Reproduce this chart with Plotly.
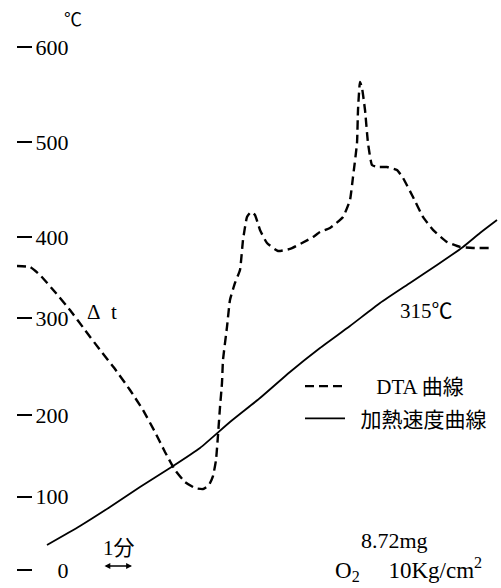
import plotly.graph_objects as go

# ---- data (time in minutes, temperature-scale units) ----
dta_x = [-1.034, -0.586, -0.241, 0.276, 0.793, 1.310, 1.828, 2.345, 2.862, 3.310,
         3.724, 4.069, 4.414, 4.759, 5.103, 5.379, 5.586, 5.724, 5.828, 5.897,
         5.966, 6.034, 6.069, 6.207, 6.310, 6.483, 6.655, 6.759, 6.897, 7.034,
         7.172, 7.345, 7.586, 7.966, 8.379, 8.793, 9.172, 9.414, 9.759, 10.207,
         10.448, 10.552, 10.690, 10.724, 10.793, 10.862, 10.966, 11.069, 11.207, 11.379,
         11.724, 12.069, 12.276, 12.621, 12.966, 13.310, 13.793, 14.241, 14.690, 15.276]
dta_y = [348.8, 347.6, 338.4, 318.9, 298.2, 275.3, 252.4, 230.6, 206.5, 183.5,
         158.3, 135.4, 114.7, 100.9, 94.0, 92.9, 97.5, 107.8, 126.2, 154.9,
         187.0, 214.5, 240.9, 278.8, 309.8, 329.3, 344.2, 378.6, 405.0, 410.7,
         407.3, 390.1, 375.1, 366.0, 368.3, 375.1, 382.0, 387.8, 392.4, 405.0,
         424.5, 450.9, 489.9, 527.7, 559.8, 553.0, 527.7, 489.9, 464.6, 462.3,
         462.3, 458.9, 449.7, 427.9, 405.0, 390.1, 376.3, 370.6, 369.4, 369.4]

heat_x = [0.0, 1.138, 2.172, 3.207, 4.241, 5.276, 6.310, 7.345, 8.379, 9.414,
          10.448, 11.483, 12.517, 13.448, 14.345, 14.931, 15.517]
heat_y = [28.7, 50.5, 72.3, 95.2, 117.0, 140.0, 169.8, 197.3, 227.2, 254.7,
          279.9, 306.3, 329.3, 349.9, 370.6, 386.6, 401.5]

tick_vals = [0, 84, 178, 289, 382, 491, 600]
tick_text = ["\u200a\u00a0\u00a0\u00a0\u00a00", "\u200a100", "\u200a200", "\u200a300",
             "\u200a400", "\u200a500", "\u200a600"]

series_names = ["\u00a0\u00a0\u00a0\u00a0\u00a0DTA 曲線", "\u00a0\u00a0加熱速度曲線"]

SERIF = "Liberation Serif, Noto Sans CJK JP, serif"

fig = go.Figure()
fig.add_trace(go.Scatter(
    x=dta_x, y=dta_y, mode="lines", name=series_names[0],
    line=dict(color="black", width=2.4, dash="9px,5px", shape="spline", smoothing=0.4),
    legendgroup="a",
))
fig.add_trace(go.Scatter(
    x=heat_x, y=heat_y, mode="lines", name=series_names[1],
    line=dict(color="black", width=1.8, shape="spline", smoothing=0.5),
    legendgroup="b",
))

ann = [
    dict(text="℃", x=73, y=20, size=18),
    dict(text="Δ\u00a0\u00a0t", x=102, y=312, size=21),
    dict(text="315℃", x=426, y=311, size=21),
    dict(text="8.72mg", x=394, y=540, size=22),
    dict(text="O<sub>2</sub>\u00a0\u00a0\u00a0\u00a0\u00a010Kg/cm<sup>2</sup>", x=408, y=569, size=23),
    dict(text="1分", x=119, y=548, size=21),
]
annotations = []
for a in ann:
    annotations.append(dict(
        text=a["text"], xref="paper", yref="paper",
        x=(a["x"] - 17) / 484, y=(588 - a["y"]) / 588,
        xanchor="center", yanchor="middle", showarrow=False,
        font=dict(family=SERIF, size=a["size"], color="black"),
    ))
# 1-minute double arrow
annotations.append(dict(
    text="", x=2.931, y=4.6, ax=1.931, ay=4.6, xref="x", yref="y", axref="x", ayref="y",
    showarrow=True, arrowhead=2, startarrowhead=2, arrowside="end+start",
    arrowsize=0.9, arrowwidth=1.3, arrowcolor="black",
))

fig.update_layout(
    width=501, height=588,
    margin=dict(l=17, r=0, t=0, b=0),
    paper_bgcolor="white", plot_bgcolor="white",
    showlegend=True,
    legend=dict(
        x=(300 - 17) / 484, y=(588 - 366) / 588, xanchor="left", yanchor="top",
        font=dict(family=SERIF, size=21, color="black"),
        bgcolor="rgba(0,0,0,0)", tracegroupgap=2, itemwidth=40,
    ),
    annotations=annotations,
    xaxis=dict(range=[-1.034, 15.655], visible=False, fixedrange=True),
    yaxis=dict(
        range=[-20.65, 653.9], showgrid=False, zeroline=False, showline=False,
        fixedrange=True,
        tickmode="array", tickvals=tick_vals, ticktext=tick_text,
        ticks="inside", ticklen=15, tickwidth=1.6, tickcolor="black",
        ticklabelposition="inside", ticklabelstandoff=3,
        tickfont=dict(family=SERIF, size=22, color="black"),
    ),
)

fig.write_html(
    "out.html",
    config={"displayModeBar": False},
    post_script="document.body.style.margin='0';document.body.style.overflow='hidden';",
)
